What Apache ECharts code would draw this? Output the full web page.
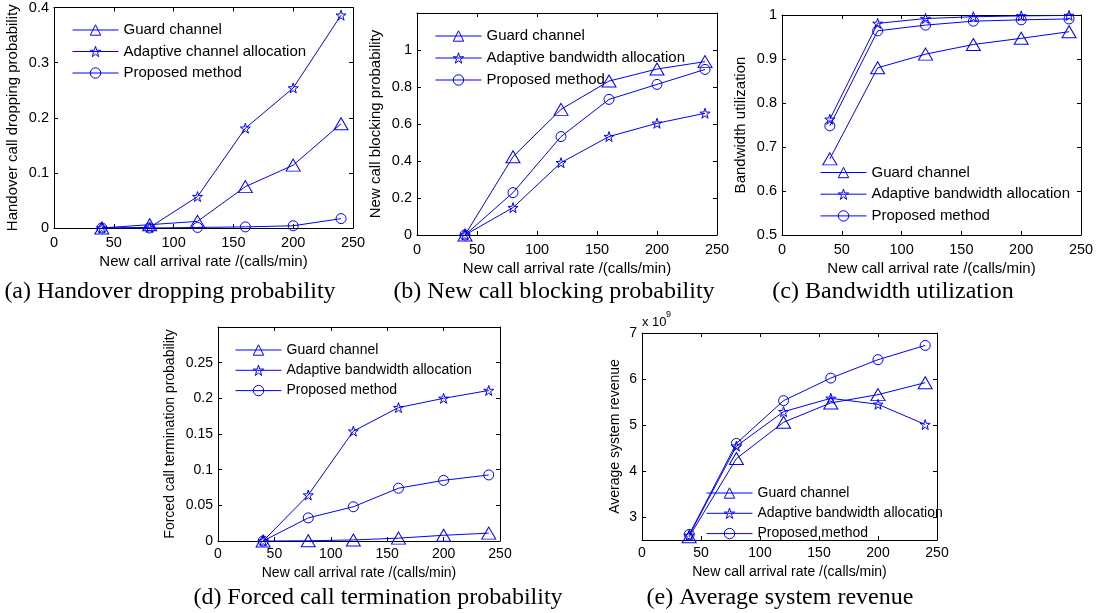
<!DOCTYPE html>
<html><head><meta charset="utf-8">
<script src="https://cdn.jsdelivr.net/npm/echarts@6/dist/echarts.min.js"></script>
<style>html,body{margin:0;padding:0;background:#fff}#chart{width:1105px;height:613px}</style>
</head><body><div id="chart"></div>
<script>
// ---------- data ----------
const arrivalRate = [40, 80, 120, 160, 200, 240];
const namesA = ['Guard channel', 'Adaptive channel allocation', 'Proposed method'];
const namesB = ['Guard channel', 'Adaptive bandwidth allocation', 'Proposed method'];

// (a) Handover dropping probability
const aGuard    = [0, 0.006, 0.012, 0.075, 0.114, 0.189];
const aAdaptive = [0, 0.001, 0.057, 0.181, 0.254, 0.386];
const aProposed = [0, 0, 0.001, 0.002, 0.004, 0.017];
// (b) New call blocking probability
const bGuard    = [0, 0.423, 0.679, 0.832, 0.897, 0.937];
const bAdaptive = [0, 0.148, 0.391, 0.532, 0.604, 0.658];
const bProposed = [0, 0.229, 0.532, 0.733, 0.814, 0.895];
// (c) Bandwidth utilization
const cGuard    = [0.673, 0.880, 0.911, 0.933, 0.947, 0.962];
const cAdaptive = [0.763, 0.981, 0.992, 0.996, 0.998, 0.999];
const cProposed = [0.748, 0.964, 0.977, 0.986, 0.989, 0.991];
// (d) Forced call termination probability
const dGuard    = [0, 0.0003, 0.0015, 0.004, 0.008, 0.011];
const dAdaptive = [0, 0.0644, 0.154, 0.187, 0.200, 0.211];
const dProposed = [0, 0.0324, 0.048, 0.074, 0.085, 0.0926];
// (e) Average system revenue
const eGuard    = [2.57e9, 4.27e9, 5.06e9, 5.48e9, 5.66e9, 5.92e9];
const eAdaptive = [2.60e9, 4.54e9, 5.29e9, 5.58e9, 5.45e9, 5.01e9];
const eProposed = [2.62e9, 4.60e9, 5.53e9, 6.02e9, 6.42e9, 6.73e9];
const eTicks    = [3e9, 4e9, 5e9, 6e9, 7e9];

const xName = 'New call arrival rate /(calls/min)';
const yNames = ['Handover call dropping probability', 'New call blocking probability',
  'Bandwidth utilization', 'Forced call termination probability', 'Average system revenue'];
const captions = ['(a) Handover dropping probability', '(b) New call blocking probability',
  '(c) Bandwidth utilization', '(d) Forced call termination probability', '(e) Average system revenue'];

// ---------- style / layout ----------
const BLUE = '#0000ff';
const CLEAR = 'rgba(255,255,255,0)';
const SANS = '"Liberation Sans", Arial, Helvetica, sans-serif';
const SERIF = '"Liberation Serif", "Times New Roman", serif';
const STAR = 'path://M50,0 L61.2,34.5 L97.6,34.5 L68.2,55.9 L79.4,90.5 L50,69.1 L20.6,90.5 L31.8,55.9 L2.4,34.5 L38.8,34.5 Z';
const symbols = ['triangle', STAR, 'circle'];
const symbolSizes = [[14, 12], 10, 10];

const panels = [
  { grid: {left: 54, top: 7, width: 299, height: 221}, y: {min: 0, max: 0.4, interval: 0.1},
    names: namesA, data: [aGuard, aAdaptive, aProposed], legend: {left: 72, top: 22.5, gap: 6.5},
    fs: 15, tfs: 14.5, xGap: 26, yGap: 34, lblMargin: 7, cap: {x: 170, y: 292} },
  { grid: {left: 417, top: 13, width: 300, height: 222}, y: {min: 0, max: 1.2, interval: 0.2, hideMax: true},
    names: namesB, data: [bGuard, bAdaptive, bProposed], legend: {left: 435, top: 28.5, gap: 7},
    fs: 15, tfs: 14.5, xGap: 26, yGap: 34, lblMargin: 7, cap: {x: 554, y: 292} },
  { grid: {left: 782, top: 15, width: 299, height: 220}, y: {min: 0.5, max: 1, interval: 0.1},
    names: namesB, data: [cGuard, cAdaptive, cProposed], legend: {left: 820, top: 165, gap: 6.7},
    fs: 15, tfs: 14.5, xGap: 26, yGap: 34, lblMargin: 7, cap: {x: 893, y: 292} },
  { grid: {left: 218, top: 327, width: 282, height: 214}, y: {min: 0, max: 0.3, interval: 0.05, hideMax: true},
    names: namesB, data: [dGuard, dAdaptive, dProposed], legend: {left: 235, top: 343, gap: 6.3},
    fs: 14, tfs: 14, xGap: 25, yGap: 41, lblMargin: 6, cap: {x: 378, y: 598} },
  { grid: {left: 642, top: 333, width: 295, height: 207}, y: {min: 2.5e9, max: 7e9, custom: eTicks, scale: 1e9},
    names: namesB, data: [eGuard, eAdaptive, eProposed], legend: {left: 706, top: 486, gap: 6.3},
    fs: 14, tfs: 14, xGap: 25, yGap: 20, lblMargin: 6, cap: {x: 780, y: 598} }
];

const option = {
  animation: false,
  backgroundColor: '#fff',
  grid: [], xAxis: [], yAxis: [], series: [], legend: [], graphic: []
};

const axisLine = {show: true, onZero: false, lineStyle: {color: '#000', width: 1}};
const tickStyle = {inside: true, length: 4, lineStyle: {color: '#000', width: 1}};

panels.forEach((p, i) => {
  option.grid.push(Object.assign({show: false}, p.grid));
  const xBase = {gridIndex: i, type: 'value', min: 0, max: 250, interval: 50,
    axisLine, axisTick: tickStyle, splitLine: {show: false}};
  option.xAxis.push(Object.assign({}, xBase, {
    position: 'bottom',
    axisLabel: {color: '#000', fontSize: p.tfs, fontFamily: SANS, margin: p.lblMargin},
    name: xName, nameLocation: 'middle', nameGap: p.xGap,
    nameTextStyle: {color: '#000', fontSize: p.fs, fontFamily: SANS}
  }));
  option.xAxis.push(Object.assign({}, xBase, {position: 'top', axisLabel: {show: false}}));

  const yBase = {gridIndex: i, type: 'value', min: p.y.min, max: p.y.max,
    axisLine, splitLine: {show: false}};
  if (p.y.interval) yBase.interval = p.y.interval;
  const tick = Object.assign({}, tickStyle);
  if (p.y.custom) tick.customValues = p.y.custom;
  yBase.axisTick = tick;
  const lbl = {color: '#000', fontSize: p.tfs, fontFamily: SANS, margin: 5,
    showMaxLabel: p.y.hideMax ? false : true};
  if (p.y.custom) lbl.customValues = p.y.custom;
  if (p.y.scale) lbl.formatter = v => String(Math.round(v / p.y.scale * 100) / 100);
  option.yAxis.push(Object.assign({}, yBase, {
    position: 'left', axisLabel: lbl,
    name: yNames[i], nameLocation: 'middle', nameGap: p.yGap,
    nameTextStyle: {color: '#000', fontSize: p.fs, fontFamily: SANS}
  }));
  option.yAxis.push(Object.assign({}, yBase, {position: 'right', axisLabel: {show: false}}));

  p.data.forEach((vals, k) => {
    option.series.push({
      type: 'line', name: p.names[k],
      xAxisIndex: 2 * i, yAxisIndex: 2 * i,
      data: arrivalRate.map((x, j) => [x, vals[j]]),
      symbol: symbols[k], symbolSize: symbolSizes[k], showAllSymbol: true,
      color: BLUE,
      lineStyle: {color: BLUE, width: 1},
      itemStyle: {color: CLEAR, borderColor: BLUE, borderWidth: 1},
      emphasis: {disabled: true}, z: 3 + k
    });
  });

  option.legend.push({
    orient: 'vertical', left: p.legend.left, top: p.legend.top, padding: 0,
    itemWidth: 46, itemHeight: 13, itemGap: p.legend.gap, selectedMode: false,
    itemStyle: {color: CLEAR, borderColor: BLUE, borderWidth: 1},
    lineStyle: {color: BLUE, width: 1},
    data: p.names, textStyle: {color: '#000', fontSize: p.fs, fontFamily: SANS}
  });

  option.graphic.push({
    type: 'text', x: p.cap.x, y: p.cap.y,
    style: {text: captions[i], fill: '#000', font: '24px ' + SERIF, align: 'center', verticalAlign: 'middle'}
  });
});

// exponent label for panel (e)
option.graphic.push({
  type: 'text', x: 642, y: 322.5,
  style: {text: 'x 10', fill: '#000', font: '13px ' + SANS, align: 'left', verticalAlign: 'middle'}
});
option.graphic.push({
  type: 'text', x: 666, y: 315,
  style: {text: '9', fill: '#000', font: '9px ' + SANS, align: 'left', verticalAlign: 'middle'}
});

const chart = echarts.init(document.getElementById('chart'), null, {renderer: 'canvas'});
chart.setOption(option);
</script>
</body></html>
